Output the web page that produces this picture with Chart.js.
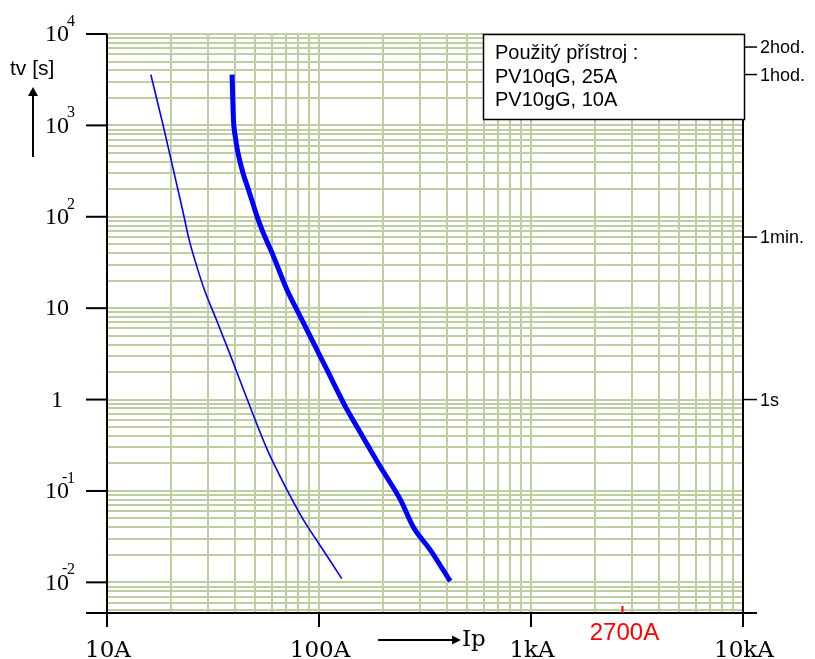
<!DOCTYPE html>
<html>
<head>
<meta charset="utf-8">
<script src="https://cdn.jsdelivr.net/npm/chart.js@4/dist/chart.umd.min.js"></script>
<style>
  html, body { margin: 0; padding: 0; background: #ffffff; }
  canvas { display: block; }
</style>
</head>
<body>
<canvas id="c" width="815" height="659"></canvas>
<script>
// ---- Data ----
// PV10gG, 10A (thin curve): current [A], time [s]
const thinCurrent = [16.1, 18.4, 20.3, 22.7, 24.4, 26.1, 28.8, 32.8, 38.1, 45.9, 57.0, 64.9, 74.7, 84.3, 97.0, 110.5, 128];
const thinTime    = [3590, 1000, 372, 120, 56.2, 32.3, 15.9, 7.48, 3.10, 1.0, 0.283, 0.151, 0.0803, 0.0485, 0.0293, 0.0186, 0.011];
// PV10qG, 25A (thick curve)
const thickCurrent = [38.9, 39.5, 40.3, 41.2, 43.8, 46.5, 51.0, 53.8, 61.0, 70.6, 81.5, 94.2, 109, 133, 151, 194, 242, 278, 334, 416];
const thickTime    = [3590, 1154, 752, 542, 301, 198, 101, 72.3, 36.9, 15.9, 8.14, 4.16, 2.12, 0.843, 0.505, 0.186, 0.0803, 0.0407, 0.0228, 0.0103];

// Axis tick labels
const xTickValues = [10, 100, 1000, 10000];
const xTickLabels = ['10A', '100A', '1kA', '10kA'];
const yTickValues = [10000, 1000, 100, 10, 1, 0.1, 0.01];
const yTickBases  = ['10', '10', '10', '10', '1', '10', '10'];
const yTickExps   = ['4', '3', '2', '', '', '-1', '-2'];
const rightTickValues = [7200, 3600, 60, 1];
const rightTickLabels = ['2hod.', '1hod.', '1min.', '1s'];
const markerCurrent = 2700;
const markerLabel = '2700A';
const legendLines = ['Použitý přístroj :', 'PV10qG, 25A', 'PV10gG, 10A'];
const xAxisTitle = 'Ip';
const yAxisTitle = 'tv [s]';

// Range
const xMin = 10, xMax = 10000;
const yMin = 0.00462, yMax = 10000;

// Log grid positions (1..9 × each decade)
function logGrid(lo, hi) {
  const out = [];
  for (let e = Math.floor(Math.log10(lo)); e <= Math.ceil(Math.log10(hi)); e++) {
    for (let m = 1; m <= 9; m++) {
      const v = +(m * Math.pow(10, e)).toPrecision(6);
      if (v >= lo * 0.9999 && v <= hi * 1.0001) out.push(v);
    }
  }
  return out;
}

const toPts = (xs, ys) => xs.map((x, i) => ({ x: x, y: ys[i] }));

const gridColor = 'rgb(190,206,160)';

const decorPlugin = {
  id: 'decor',
  afterDraw(chart) {
    const ctx = chart.ctx;
    const xs = chart.scales.x, ys = chart.scales.y;
    const L = chart.chartArea.left, R = chart.chartArea.right;
    const T = chart.chartArea.top, B = chart.chartArea.bottom;
    ctx.save();
    ctx.strokeStyle = '#000';
    ctx.fillStyle = '#000';
    ctx.lineWidth = 2;
    // axes
    ctx.beginPath();
    ctx.moveTo(L, T); ctx.lineTo(L, B + 14);
    ctx.moveTo(L - 21, B); ctx.lineTo(R + 14, B);
    ctx.moveTo(R, T); ctx.lineTo(R, B + 14);
    ctx.stroke();
    // left decade ticks + labels
    yTickValues.forEach((v, i) => {
      const py = ys.getPixelForValue(v);
      ctx.beginPath(); ctx.moveTo(L - 21, py); ctx.lineTo(L, py); ctx.stroke();
      ctx.font = '24px "Liberation Serif", serif';
      ctx.textAlign = 'center'; ctx.textBaseline = 'middle';
      ctx.fillText(yTickBases[i], 57, py + 1);
      const ex = yTickExps[i];
      if (ex) {
        ctx.font = '16px "Liberation Serif", serif';
        ctx.textAlign = 'left'; ctx.textBaseline = 'alphabetic';
        if (ex[0] === '-') {
          ctx.fillText('-', 62, py - 9);
          ctx.fillText(ex.slice(1), 67, py - 8);
        } else {
          ctx.fillText(ex, 67, py - 8);
        }
      }
    });
    // bottom decade ticks + labels
    ctx.font = '23px "DejaVu Serif", serif';
    ctx.textAlign = 'center'; ctx.textBaseline = 'alphabetic';
    xTickValues.forEach((v, i) => {
      const px = xs.getPixelForValue(v);
      ctx.beginPath(); ctx.moveTo(px, B); ctx.lineTo(px, B + 14); ctx.stroke();
      ctx.fillText(xTickLabels[i], px + 1, 657);
    });
    // right ticks
    ctx.lineWidth = 1.5;
    ctx.font = '18px "Liberation Sans", Arial, sans-serif';
    ctx.textAlign = 'left'; ctx.textBaseline = 'middle';
    rightTickValues.forEach((v, i) => {
      const py = ys.getPixelForValue(v);
      ctx.beginPath(); ctx.moveTo(R, py); ctx.lineTo(R + 14, py); ctx.stroke();
      ctx.fillText(rightTickLabels[i], R + 17, py + 1);
    });
    // x axis title with arrow
    ctx.lineWidth = 2;
    ctx.beginPath(); ctx.moveTo(378, 640); ctx.lineTo(452, 640); ctx.stroke();
    ctx.beginPath(); ctx.moveTo(452, 635.5); ctx.lineTo(461, 640); ctx.lineTo(452, 644.5); ctx.closePath(); ctx.fill();
    ctx.font = '23px "DejaVu Serif", serif';
    ctx.textAlign = 'left'; ctx.textBaseline = 'alphabetic';
    ctx.fillText(xAxisTitle, 462, 646);
    // y axis title with arrow
    ctx.font = '21px "Liberation Sans", Arial, sans-serif';
    ctx.textAlign = 'left'; ctx.textBaseline = 'middle';
    ctx.fillText(yAxisTitle, 10, 69);
    ctx.beginPath(); ctx.moveTo(33, 157); ctx.lineTo(33, 95); ctx.stroke();
    ctx.beginPath(); ctx.moveTo(28, 96); ctx.lineTo(33, 87); ctx.lineTo(38, 96); ctx.closePath(); ctx.fill();
    // 2700A marker
    const mx = xs.getPixelForValue(markerCurrent);
    ctx.strokeStyle = '#ff0000'; ctx.fillStyle = '#ff0000';
    ctx.beginPath(); ctx.moveTo(mx, B - 7); ctx.lineTo(mx, B); ctx.stroke();
    ctx.font = '24px "Liberation Sans", Arial, sans-serif';
    ctx.textAlign = 'center'; ctx.textBaseline = 'alphabetic';
    ctx.fillText(markerLabel, mx + 2, 640);
    // legend box
    ctx.fillStyle = '#fff'; ctx.strokeStyle = '#000'; ctx.lineWidth = 1.5;
    ctx.fillRect(483, 34, 262, 85);
    ctx.strokeRect(483.5, 34.5, 261, 85);
    ctx.fillStyle = '#000';
    ctx.font = '20px "Liberation Sans", Arial, sans-serif';
    ctx.textAlign = 'left'; ctx.textBaseline = 'alphabetic';
    legendLines.forEach((t, i) => ctx.fillText(t, 495, 59 + i * 23.5));
    ctx.restore();
  }
};

new Chart(document.getElementById('c'), {
  type: 'scatter',
  data: {
    datasets: [
      { label: legendLines[2], data: toPts(thinCurrent, thinTime), showLine: true,
        borderColor: '#0000ff', borderWidth: 1.6, pointRadius: 0, cubicInterpolationMode: 'monotone', fill: false },
      { label: legendLines[1], data: toPts(thickCurrent, thickTime), showLine: true,
        borderColor: '#0000ff', borderWidth: 5, pointRadius: 0, cubicInterpolationMode: 'monotone', fill: false,
        borderJoinStyle: 'round' }
    ]
  },
  options: {
    responsive: false,
    animation: false,
    devicePixelRatio: 1,
    layout: { padding: { left: 107, right: 72, top: 34, bottom: 46 } },
    plugins: { legend: { display: false }, tooltip: { enabled: false } },
    scales: {
      x: {
        type: 'logarithmic', min: xMin, max: xMax,
        afterBuildTicks: s => { s.ticks = logGrid(xMin, xMax).map(v => ({ value: v })); },
        afterFit: s => { s.height = 0; },
        ticks: { display: false },
        grid: { color: gridColor, lineWidth: 2, drawTicks: false },
        border: { display: false }
      },
      y: {
        type: 'logarithmic', min: yMin, max: yMax,
        afterBuildTicks: s => { s.ticks = logGrid(0.005, yMax).map(v => ({ value: v })); },
        afterFit: s => { s.width = 0; },
        ticks: { display: false },
        grid: { color: gridColor, lineWidth: 2, drawTicks: false },
        border: { display: false }
      }
    }
  },
  plugins: [decorPlugin]
});
</script>
</body>
</html>
